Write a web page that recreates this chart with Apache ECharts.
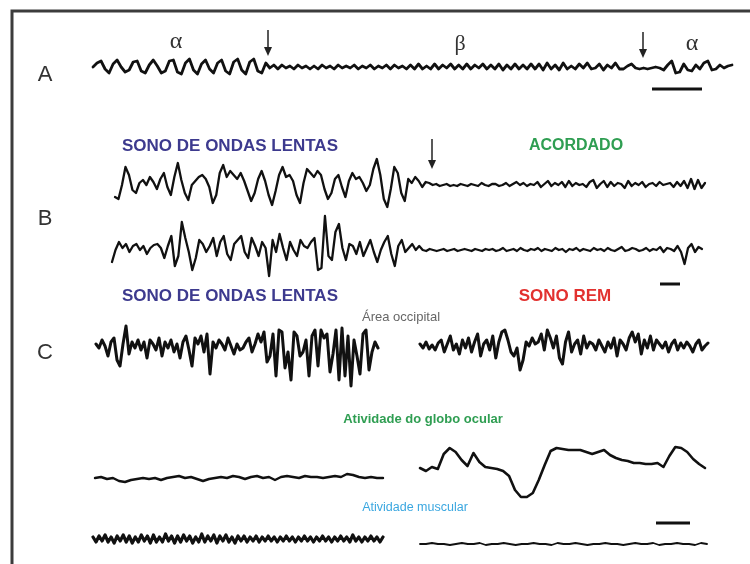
<!DOCTYPE html>
<html><head><meta charset="utf-8">
<script src="https://cdn.jsdelivr.net/npm/echarts@6/dist/echarts.min.js"></script>
<style>html,body{margin:0;padding:0;background:#fff}#c{width:750px;height:564px}</style>
</head><body><div id="c"></div>
<script>
// ---- trace amplitudes (pixels-ish units, up = positive), evenly sampled in time ----
const traceA = [
 0,4,6,-2,-6,3,7,0,-5,-3,5,6,-4,-6,2,7,1,-6,-4,6,7,-5,-7,4,8,-3,-7,3,7,-2,-6,4,7,-4,-7,5,8,-3,-7,5,8,-4,-6,4,
 -1,2,-2,2,-1,1,-2,2,-1,1,-2,1,-2,2,-1,1,-2,2,-1,1,-1,2,-2,1,-1,2,-2,1,-1,2,
 -2,2,-1,1,-2,2,-2,3,-2,1,-2,3,-2,2,-1,3,-2,2,-2,3,-2,2,-1,3,-2,2,-2,3,-3,2,
 -2,3,-2,2,-2,3,-2,3,-3,4,-2,2,-3,4,-2,1,-2,3,-1,4,-2,-1,3,-3,2,-1,4,-2,-2,1,3,-1,-2,
 -1,-2,-1,0,-1,-3,2,6,-6,-5,3,-3,-4,2,-2,4,6,-3,-2,2,-1,1,2
];
const traceB1 = [
 -12,-14,0,18,10,-5,-8,2,5,0, 8,3,-4,6,12,-2,-10,8,22,5, -8,-15,0,4,8,10,6,-2,-18,-10,
 12,20,8,14,10,6,12,4,-6,-16, -8,6,14,4,-10,-20,-6,10,18,8, 10,4,-10,-18,2,16,12,8,14,10,
 -4,-14,-8,6,10,-2,-12,4,12,6, 8,2,-6,0,16,26,10,-14,-22,-4, 18,12,-8,-16,6,2,8,4,-2,
 3,2,0,1,-1,0,1,-1,0,-1, 1,0,-1,1,0,-1,2,0,-1,1, 1,-1,0,2,-1,1,3,0,2,-1, 1,0,3,-2,1,4,-1,2,0,3,
 -2,4,-1,2,0,1,-2,3,5,-3, 1,4,-2,3,-1,2,1,-3,4,-1, 2,0,3,-2,1,2,-1,3,0,1, 2,-2,3,-1,4,-3,6,-4,5,-3, 2
];
const traceB2 = [
 -12,0,8,2,6,-2,4,6,0,4, -4,2,5,6,2,-8,4,14,-16,-6, 28,12,-2,-20,-8,10,6,-2,4,12,
 -6,8,14,-4,-10,6,10,14,-2,-8, 12,4,-6,8,2,-26,10,-2,16,2, -10,8,0,-6,10,4,2,8,12,-20,
 -18,34,-6,-10,18,26,2,-10,6,4, -4,8,-6,2,10,-2,-12,0,8,14, -4,-16,4,10,-2,2,6,0,4,
 0,-1,1,0,-1,0,1,-1,0,1, -1,0,1,0,-1,1,0,-1,1,0, 1,-1,0,2,-1,0,1,-1,2,0, -1,1,0,2,-1,1,0,-1,2,0,
 1,-2,1,0,2,-1,1,0,-1,2, 0,1,-1,2,0,-1,1,3,-1,0, 2,1,-1,0,2,-1,1,0,3,-2, 2,1,-1,4,-2,-14,2,6,-2,3, 1
];
const traceCswsEEG = [
 2,-2,6,0,-10,4,8,-14,-20,2, 20,-8,4,-2,6,-4,4,-12,6,2, -4,8,-10,4,-2,6,-6,2,-12,4,
 10,-4,-20,8,2,10,-6,12,-28,4, -2,6,2,-4,8,0,-8,2,-4,-2, 4,8,-6,2,12,4,14,-16,-10,12,
 -30,16,14,-22,-6,-34,14,10,-10,-6, 6,-30,10,16,-20,16,8,12,-26,-8, 16,-34,18,-30,10,-40,6,-10,-28,12,
 16,-24,-6,4,-2
];
const traceCremEEG = [
 2,-2,4,-3,1,-4,3,6,-6,2, 10,-4,2,-8,6,-2,8,-6,4,12, -10,2,6,-4,10,-12,4,14,16,6,
 -6,-10,-2,-24,-14,4,0,8,2,4, 12,-4,16,8,-2,10,-12,-18,4,14, -6,2,6,-8,10,-2,4,2,-4,6,
 0,-6,4,-2,8,-10,6,2,-4,8, 14,4,12,-8,6,-2,10,-4,6,2, -2,4,-6,2,6,-4,3,-2,4,0, -6,2,6,-4,0,3
];
const traceCswsEye = [
 0,1,-1,0,-3,-4,-2,-1,0,-1, 0,-2,0,1,2,0,1,-1,-3,-1, 0,1,0,2,1,-1,1,2,0,1,
 -2,1,2,1,0,2,1,1,0,1, 2,1,4,3,1,0,1,0,0
];
const traceCremEye = [
 4,1,5,3,18,24,20,12,6,19, 10,5,4,3,1,-4,-18,-25,-25,-21, -8,7,21,24,23,22,22,22,20,18,
 20,22,17,14,12,11,9,9,8,8, 9,5,16,25,24,20,13,8,4
];
const traceCswsMuscle = [
 2,-3,3,-2,4,-3,2,-4,3,-2, 4,-3,3,-4,2,-3,4,-2,3,-4, 4,-3,2,-3,5,-2,3,-4,3,-3,
 4,-2,3,-4,2,-3,5,-3,3,-2, 4,-4,3,-2,4,-3,2,-4,3,-2, 3,-3,2,-2,3,-3,2,-2,3,-2,
 2,-3,2,-2,3,-2,2,-3,2,-2, 3,-2,2,-3,2,-2,3,-2,2,-3, 2,-2,3,-2,2,-3,4,-2,2,-3, 2,-2,3,-2,2,-3,2
];
const traceCremMuscle = [
 0,0,1,0,0,-1,0,1,0,0, 1,-1,0,0,1,0,-1,0,0,1, 0,0,-1,1,0,0,1,0,-1,0,
 0,1,0,0,-1,0,1,0,0,1, -1,0,0,1,0,0,-1,1,0
];

// ---- texts ----
const panelLabels = ['A','B','C'];
const greekLabels = ['\u03b1','\u03b2','\u03b1'];
const stateLabels = ['SONO DE ONDAS LENTAS','ACORDADO','SONO DE ONDAS LENTAS','SONO REM'];
const subLabels = ['\u00c1rea occipital','Atividade do globo ocular','Atividade muscular'];

// ---- layout (positions/styles) ----
const layout = [
 {data: traceA,          x0: 93,  x1: 732, cy: 67,  hh: 40, lw: 2.8},
 {data: traceB1,         x0: 115, x1: 705, cy: 185, hh: 40, lw: 2.3},
 {data: traceB2,         x0: 112, x1: 702, cy: 250, hh: 40, lw: 2.3},
 {data: traceCswsEEG,    x0: 96,  x1: 378, cy: 346, hh: 50, lw: 3.0},
 {data: traceCremEEG,    x0: 420, x1: 708, cy: 346, hh: 50, lw: 3.0},
 {data: traceCswsEye,    x0: 95,  x1: 383, cy: 478, hh: 30, lw: 2.4},
 {data: traceCremEye,    x0: 420, x1: 705, cy: 472, hh: 30, lw: 2.6},
 {data: traceCswsMuscle, x0: 93,  x1: 383, cy: 539, hh: 15, lw: 3.2},
 {data: traceCremMuscle, x0: 420, x1: 707, cy: 544, hh: 15, lw: 1.8}
];

const grids=[], xAxes=[], yAxes=[], series=[];
layout.forEach((t,i)=>{
  grids.push({left:t.x0, top:t.cy-t.hh, width:t.x1-t.x0, height:2*t.hh, containLabel:false});
  xAxes.push({type:'value', gridIndex:i, min:0, max:t.data.length-1, show:false});
  yAxes.push({type:'value', gridIndex:i, min:-t.hh, max:t.hh, show:false});
  series.push({type:'line', xAxisIndex:i, yAxisIndex:i, data:t.data.map((v,j)=>[j,v]),
    showSymbol:false, symbol:'none', silent:true,
    lineStyle:{color:'#111', width:t.lw, join:'round', cap:'round'}});
});

function txt(x,y,text,font,fill,align){
  return {type:'text', silent:true, style:{x:x,y:y,text:text,font:font,fill:fill,align:align||'center',verticalAlign:'middle'}};
}
function arrow(x,y0,y1){
  return {type:'group', silent:true, children:[
    {type:'line', shape:{x1:x,y1:y0,x2:x,y2:y1-3}, style:{stroke:'#222', lineWidth:1.5}},
    {type:'polygon', shape:{points:[[x-4,y1-9],[x+4,y1-9],[x,y1]]}, style:{fill:'#222'}}
  ]};
}
function bar(x0,x1,y,w){
  return {type:'line', silent:true, shape:{x1:x0,y1:y,x2:x1,y2:y}, style:{stroke:'#111', lineWidth:w||3}};
}
const sans = 'Liberation Sans, Arial, sans-serif';
const graphic = [
  {type:'rect', silent:true, shape:{x:12,y:11,width:800,height:600}, style:{fill:'none', stroke:'#3c3c3c', lineWidth:3}},
  txt(45,75,panelLabels[0],'22px '+sans,'#333'),
  txt(45,219,panelLabels[1],'22px '+sans,'#333'),
  txt(45,353,panelLabels[2],'22px '+sans,'#333'),
  txt(176,42,greekLabels[0],'24px Liberation Serif, serif','#333'),
  txt(460,44,greekLabels[1],'22px Liberation Serif, serif','#333'),
  txt(692,44,greekLabels[2],'24px Liberation Serif, serif','#333'),
  arrow(268,30,56), arrow(643,32,58), arrow(432,139,169),
  bar(652,702,89,3), bar(660,680,284,3), bar(656,690,523,3),
  txt(230,146,stateLabels[0],'bold 17px '+sans,'#3d3a8e'),
  txt(576,146,stateLabels[1],'bold 16px '+sans,'#2f9e52'),
  txt(230,296,stateLabels[2],'bold 17px '+sans,'#3d3a8e'),
  txt(565,296,stateLabels[3],'bold 17px '+sans,'#e2312f'),
  txt(401,317,subLabels[0],'13px '+sans,'#666'),
  txt(423,419,subLabels[1],'bold 13px '+sans,'#2f9e52'),
  txt(415,508,subLabels[2],'12.5px '+sans,'#3aa7e0')
];

const chart = echarts.init(document.getElementById('c'), null, {renderer:'canvas'});
chart.setOption({
  animation:false,
  backgroundColor:'#fff',
  grid:grids, xAxis:xAxes, yAxis:yAxes, series:series, graphic:graphic
});
</script></body></html>
